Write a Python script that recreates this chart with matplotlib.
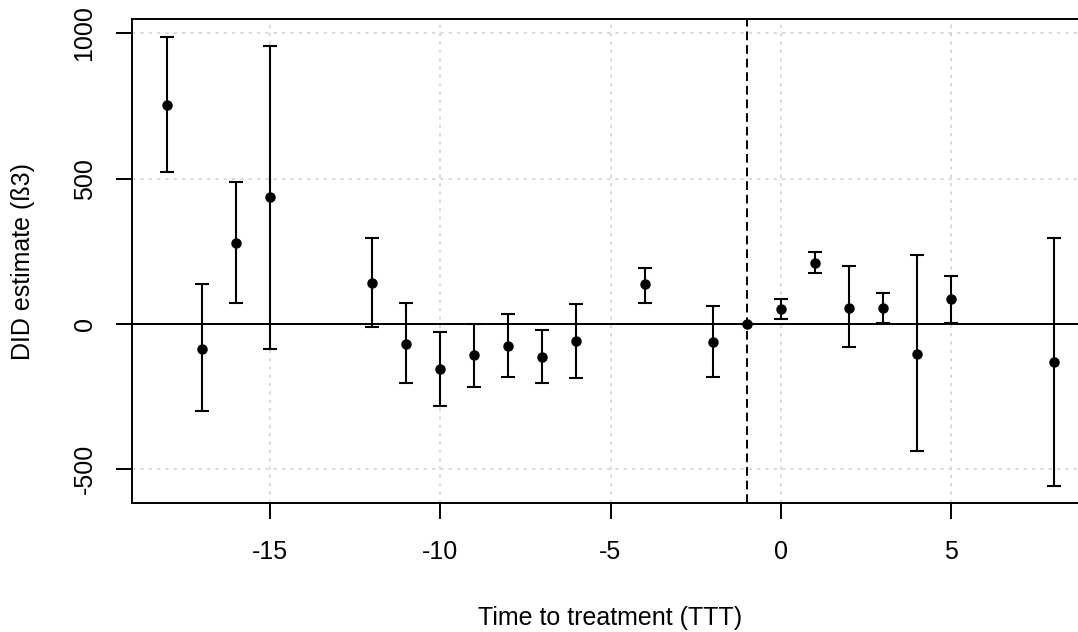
import matplotlib
matplotlib.use("Agg")
import matplotlib.pyplot as plt
import numpy as np

# event-study estimates
periods = [-18, -17, -16, -15, -12, -11, -10, -9, -8, -7, -6, -4, -2, -1, 0, 1, 2, 3, 4, 5, 8]
estimate = [754, -86, 278, 437, 141, -68, -154, -108, -75, -114, -57, 136, -63, 0, 51, 210, 56, 56, -103, 85, -131]
ci_low = [522, -300, 73, -86, -11, -204, -283, -216, -181, -204, -187, 73, -181, 0, 17, 175, -79, 2, -436, 3, -556]
ci_high = [987, 137, 488, 958, 295, 73, -29, -1, 33, -22, 68, 192, 62, 0, 85, 249, 199, 108, 239, 164, 295]

x_ticks = [-15, -10, -5, 0, 5]
y_ticks = [-500, 0, 500, 1000]

plt.rcParams['font.family'] = ['Liberation Sans', 'DejaVu Sans']
plt.rcParams['font.size'] = 18

W, H = 1078, 632
fig = plt.figure(figsize=(W / 100, H / 100), dpi=100)
ax = fig.add_axes([132 / W, (H - 502.7) / H, (1089 - 132) / W, (502.7 - 18.7) / H])

est = np.array(estimate)
lo = np.array(ci_low)
hi = np.array(ci_high)

# grid first so everything sits on top
for xv in x_ticks:
    ax.axvline(xv, color='#D3D3D3', lw=1.2, ls=(0, (2, 3)), zorder=0)
for yv in y_ticks:
    ax.axhline(yv, color='#D3D3D3', lw=1.2, ls=(0, (2, 3)), zorder=0)

ax.axhline(0, color='black', lw=1.4, zorder=1)
ax.axvline(-1, color='black', lw=1.4, ls=(0, (4.5, 2.5)), zorder=1)

ax.errorbar(periods, est, yerr=[est - lo, hi - est], fmt='o', color='black',
            ms=6.5, capsize=5, elinewidth=1.5, capthick=1.5, zorder=3)

ax.set_xlim(-19.04, 9.04)
ax.set_ylim(-615, 1050.6)
ax.set_xticks(x_ticks)
ax.set_xticklabels([str(v) for v in x_ticks])
ax.set_yticks(y_ticks)
ax.set_yticklabels([str(v) for v in y_ticks], rotation=90, va='center')

ax.tick_params(axis='both', length=11.5, width=1.4, color='black')
ax.tick_params(axis='x', pad=15)
ax.tick_params(axis='y', pad=14)
for s in ax.spines.values():
    s.set_linewidth(1.4)

fig.text(610 / W, 1 - 618 / H, 'Time to treatment (TTT)', ha='center', va='center', fontsize=18)
fig.text(23 / W, 1 - 261 / H, 'DID estimate (ß3)', ha='center', va='center',
         rotation=90, fontsize=18)

fig.savefig('out.png', dpi=100)
